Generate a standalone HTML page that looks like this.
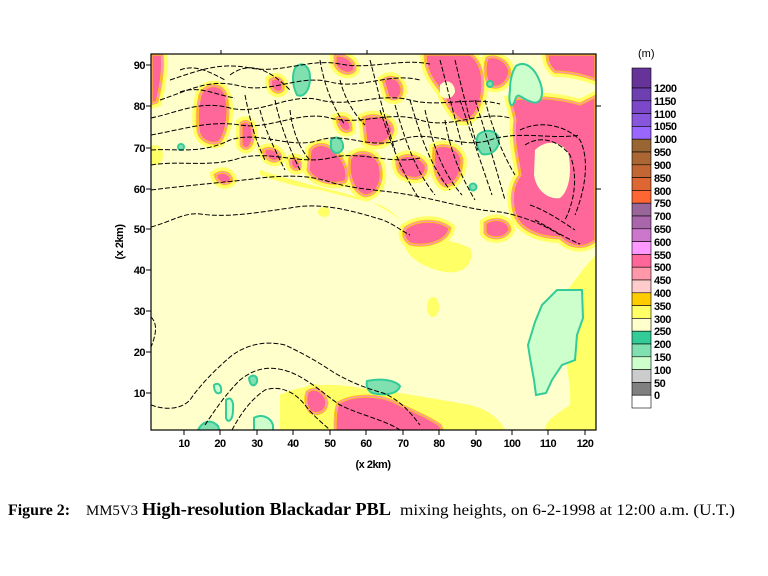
<!DOCTYPE html>
<html><head><meta charset="utf-8"><style>
body{margin:0;background:#fff;width:768px;height:576px;overflow:hidden;position:relative;font-family:"Liberation Sans",sans-serif}
</style></head><body>
<svg width="768" height="576" style="position:absolute;left:0;top:0" xmlns="http://www.w3.org/2000/svg">
<defs><clipPath id="c"><rect x="151" y="54" width="445" height="376"/></clipPath>
<g id="pk">
<path d="M151,54 H162 C164,70 160,90 157,102 L151,104Z"/>
<path d="M200,95 C205,83 222,82 226,95 C230,110 228,130 220,142 C210,146 198,140 198,128 C196,115 198,105 200,95Z"/>
<path d="M241,123 C248,118 254,125 253,138 C252,148 245,152 241,145Z"/>
<path d="M263,150 C270,146 280,150 281,158 C276,164 266,162 263,150Z"/>
<path d="M310,150 C318,140 330,145 336,152 C345,160 350,175 345,182 C330,186 312,180 308,170Z"/>
<path d="M350,158 C360,148 375,152 380,165 C384,180 378,195 365,196 C352,192 347,172 350,158Z"/>
<path d="M337,118 C345,115 352,120 351,130 C345,134 338,130 337,118Z"/>
<path d="M363,118 C375,112 392,118 393,130 C390,143 376,148 366,142Z"/>
<path d="M425,54 H470 C480,60 485,75 482,95 C478,115 470,123 460,120 C450,112 445,100 440,90 C432,80 425,70 425,54Z"/>
<path d="M383,80 C390,74 400,78 402,88 C403,98 395,102 388,97Z"/>
<path d="M397,160 C405,152 420,155 426,165 C428,175 420,180 410,178 C400,176 396,170 397,160Z"/>
<path d="M434,148 C445,142 460,148 462,160 C462,175 455,186 445,186 C436,182 432,165 434,148Z"/>
<path d="M487,58 C495,54 508,60 510,72 C508,84 498,90 490,86 C484,78 484,66 487,58Z"/>
<path d="M510,100 C530,95 560,98 580,104 L596,96 V240 C585,250 570,248 560,238 C540,238 520,230 515,215 C510,200 512,185 520,175 C518,160 512,140 515,120Z"/>
<path d="M405,228 C420,218 440,220 450,228 C448,242 425,248 410,244 C404,240 402,234 405,228Z"/>
<path d="M485,223 C495,216 510,220 510,230 C505,240 490,240 485,233Z"/>
<path d="M547,54 H596 V80 C585,76 570,72 555,72 C548,66 547,60 547,54Z"/>
<path d="M335,55 C345,54 355,60 355,70 C350,76 340,74 335,65Z"/>
<path d="M270,80 C278,75 285,80 283,90 C278,95 270,92 270,80Z"/>
<path d="M307,392 C315,385 325,392 327,402 C327,412 318,416 310,412 C305,405 305,398 307,392Z"/>
<path d="M338,403 C355,393 380,395 395,402 C410,410 425,415 440,425 L445,435 H335 C335,420 335,410 338,403Z"/>
<path d="M215,175 C222,170 230,172 232,180 C228,186 218,185 215,175Z"/>
<path d="M290,160 C296,156 302,160 300,168 C295,172 290,168 290,160Z"/>
</g>
</defs>
<g clip-path="url(#c)">
<rect x="151" y="54" width="445" height="376" fill="#ffffcc"/>
<g fill="#ffff66">
<path d="M403,240 C420,236 450,238 470,248 C475,262 465,275 445,272 C425,268 405,258 403,240Z"/>
<ellipse cx="433" cy="307" rx="6" ry="10"/>
<path d="M560,300 C575,280 590,260 596,255 V430 H545 C545,420 560,412 570,405 C572,380 560,340 560,300Z"/>
<path d="M280,395 C300,385 330,382 360,388 C400,392 440,400 470,405 C490,410 500,420 505,430 H280 Z"/>
<ellipse cx="324" cy="212" rx="6" ry="5"/>
<ellipse cx="155" cy="155" rx="8" ry="10"/>
<path d="M260,175 C280,182 300,188 320,190 C340,195 360,200 380,205 C392,210 400,220 408,228 C395,212 370,200 340,192 C310,185 285,178 260,170Z"/>
</g>
<use href="#pk" fill="#ffff66" stroke="#ffff66" stroke-width="10"/>
<use href="#pk" fill="#ff6699" stroke="#ffcc00" stroke-width="3"/>
<use href="#pk" fill="none" stroke="#ff99aa" stroke-width="1.5"/>
<path d="M535,150 C545,140 560,140 568,152 C572,170 570,190 560,198 C548,200 536,190 534,175Z" fill="#ffffcc"/>
<path d="M440,85 C446,78 455,82 455,92 C452,100 444,100 440,95Z" fill="#ffffcc"/>
<g stroke="#33cc99" stroke-width="2">
<path d="M295,68 C302,60 310,66 310,78 C310,90 304,98 297,95 C292,85 292,75 295,68Z" fill="#80e0b0"/>
<path d="M331,140 C337,134 344,140 343,148 C340,155 333,154 331,148Z" fill="#80e0b0"/>
<path d="M478,135 C486,128 498,130 499,140 C499,150 490,156 482,154 C476,148 476,140 478,135Z" fill="#80e0b0"/>
<path d="M516,66 C525,60 535,68 540,82 C545,96 540,105 532,102 C522,100 518,90 515,100 C512,110 508,105 510,90 C510,80 512,72 516,66Z" fill="#ccffcc"/>
<circle cx="181" cy="147" r="3" fill="#80e0b0"/>
<circle cx="473" cy="187" r="3.5" fill="#80e0b0"/>
<circle cx="490" cy="84" r="3" fill="#80e0b0"/>
<path d="M557,290 L582,290 L583,318 L577,335 L575,360 L562,365 L552,380 L546,393 L536,395 L534,380 L530,358 L528,345 L535,322 L542,305Z" fill="#ccffcc"/>
<path d="M367,381 C380,378 395,380 400,386 C398,394 385,396 372,393 C367,390 366,385 367,381Z" fill="#80e0b0"/>
<path d="M249,378 C252,374 258,375 257,382 C255,387 250,387 249,378Z" fill="#80e0b0"/>
<path d="M214,385 C218,382 222,385 221,392 C218,395 214,393 214,385Z" fill="#ccffcc"/>
<path d="M226,400 C230,396 234,400 233,410 C233,420 228,424 226,418Z" fill="#ccffcc"/>
<path d="M254,418 C260,414 270,416 273,425 L273,432 H254Z" fill="#ccffcc"/>
<path d="M198,430 C202,422 210,418 218,426 L220,432 H198Z" fill="#80e0b0"/>
</g>
<g fill="none" stroke="#000" stroke-width="1" stroke-dasharray="5,2">
<path d="M151,227 C170,222 185,212 200,214 C230,218 260,212 290,208 C320,202 350,210 383,220 C395,225 400,230 410,235"/>
<path d="M151,190 C190,185 230,182 260,178 C290,175 310,175 333,183 C360,190 383,190 410,195 C440,200 470,210 500,212 C520,215 545,225 560,235"/>
<path d="M151,150 C175,148 200,155 230,140 C260,130 290,150 320,140 C345,132 370,150 400,140 C430,128 460,150 490,140 C520,130 550,140 580,135"/>
<path d="M151,135 C180,130 210,120 240,125 C270,130 300,110 330,118 C360,126 390,110 420,120 C450,130 480,110 510,118"/>
<path d="M151,118 C180,112 200,100 230,108 C260,116 290,92 320,100 C350,108 380,92 410,100 C440,108 470,96 500,104"/>
<path d="M160,100 C190,90 210,78 240,86 C270,94 300,74 330,82 C360,90 390,72 420,80"/>
<path d="M170,80 C200,70 220,62 250,68 C280,74 310,58 340,64 C370,70 400,58 430,64"/>
<path d="M151,165 C180,160 210,168 240,158 C270,150 300,165 330,158 C360,150 390,165 420,158"/>
<path d="M180,92 C200,85 215,95 235,98 M180,70 C195,64 210,72 225,80 M230,75 C250,60 270,70 290,90"/>
<path d="M380,110 C390,140 400,170 420,200 M395,105 C405,140 415,170 435,195 M410,100 C420,135 430,165 450,190 M425,110 C432,140 440,170 462,195 M445,120 C450,150 460,175 475,200 M460,100 C470,130 480,160 492,195 M475,100 C485,130 495,165 505,200"/>
<path d="M370,60 C378,90 385,120 395,150 M440,60 C448,90 455,120 462,145 M455,60 C462,90 470,120 478,150 M485,100 C490,120 500,150 515,175"/>
<path d="M260,110 C265,130 275,150 285,170 M275,100 C280,125 290,150 300,170 M290,110 C292,130 300,150 310,160 M245,95 C250,120 255,140 265,160 M320,60 C325,90 335,110 345,125 M340,80 C345,100 355,115 365,125"/>
<path d="M520,130 C540,120 565,125 580,140 C590,160 585,190 575,215 M525,145 C540,135 558,140 570,155 C578,175 575,200 565,220 M530,205 C545,210 560,220 575,230 M535,220 C550,228 565,238 580,244"/>
<path d="M151,405 C165,410 180,410 190,400 C200,385 215,370 230,357 C245,345 265,340 285,345 C300,352 315,360 330,370 C345,380 365,388 383,393 C400,400 410,412 420,425"/>
<path d="M205,425 C215,410 225,395 240,380 C255,368 270,365 290,372 C310,380 325,395 340,405 C360,415 385,420 400,430"/>
<path d="M232,430 C240,415 250,400 265,390 C280,385 295,392 305,405 C315,418 325,425 330,430"/>
<path d="M151,317 C156,322 158,330 151,347"/>
</g>
</g>
<rect x="151" y="54" width="445" height="376" fill="none" stroke="#000" stroke-width="1.2"/>
<g stroke="#000" stroke-width="1">
<path d="M184,430v5M220,430v5M257,430v5M293,430v5M330,430v5M366,430v5M403,430v5M439,430v5M476,430v5M512,430v5M548,430v5M585,430v5"/>
<path d="M221,54v-4M367,54v-4M513,54v-4"/>
<path d="M146,65h5M146,106h5M146,148h5M146,189h5M146,229h5M146,270h5M146,311h5M146,352h5M146,393h5"/>
<path d="M596,106h5M596,189h5"/>
</g>
<g stroke="#000" stroke-width="0.6">
<rect x="632" y="68" width="19" height="20" fill="#663399"/>
<rect x="632" y="88" width="19" height="12.8" fill="#6e3fb0"/>
<rect x="632" y="100.8" width="19" height="12.8" fill="#7a48c8"/>
<rect x="632" y="113.6" width="19" height="12.8" fill="#8855dd"/>
<rect x="632" y="126.4" width="19" height="12.8" fill="#9966ff"/>
<rect x="632" y="139.2" width="19" height="12.8" fill="#996633"/>
<rect x="632" y="152" width="19" height="12.8" fill="#aa6633"/>
<rect x="632" y="164.8" width="19" height="12.8" fill="#c26633"/>
<rect x="632" y="177.6" width="19" height="12.8" fill="#dd6633"/>
<rect x="632" y="190.4" width="19" height="12.8" fill="#ff6633"/>
<rect x="632" y="203.2" width="19" height="12.8" fill="#996699"/>
<rect x="632" y="216" width="19" height="12.8" fill="#aa66aa"/>
<rect x="632" y="228.8" width="19" height="12.8" fill="#cc77cc"/>
<rect x="632" y="241.6" width="19" height="12.8" fill="#ff99ff"/>
<rect x="632" y="254.4" width="19" height="12.8" fill="#ff6699"/>
<rect x="632" y="267.2" width="19" height="12.8" fill="#ff99aa"/>
<rect x="632" y="280" width="19" height="12.8" fill="#ffcccc"/>
<rect x="632" y="292.8" width="19" height="12.8" fill="#ffcc00"/>
<rect x="632" y="305.6" width="19" height="12.8" fill="#ffff66"/>
<rect x="632" y="318.4" width="19" height="12.8" fill="#ffffcc"/>
<rect x="632" y="331.2" width="19" height="12.8" fill="#33cc99"/>
<rect x="632" y="344" width="19" height="12.8" fill="#80e0b0"/>
<rect x="632" y="356.8" width="19" height="12.8" fill="#ccffcc"/>
<rect x="632" y="369.6" width="19" height="12.8" fill="#cccccc"/>
<rect x="632" y="382.4" width="19" height="12.8" fill="#808080"/>
<rect x="632" y="395.2" width="19" height="12.8" fill="#ffffff"/>
</g>
<g font-family="Liberation Sans, sans-serif" font-size="11" font-weight="bold" letter-spacing="-0.5">
<text x="654" y="92">1200</text><text x="654" y="105">1150</text><text x="654" y="118">1100</text><text x="654" y="130">1050</text><text x="654" y="143">1000</text>
<text x="654" y="156">950</text><text x="654" y="169">900</text><text x="654" y="182">850</text><text x="654" y="195">800</text><text x="654" y="207">750</text>
<text x="654" y="220">700</text><text x="654" y="233">650</text><text x="654" y="246">600</text><text x="654" y="259">550</text><text x="654" y="271">500</text>
<text x="654" y="284">450</text><text x="654" y="297">400</text><text x="654" y="310">350</text><text x="654" y="323">300</text><text x="654" y="335">250</text>
<text x="654" y="348">200</text><text x="654" y="361">150</text><text x="654" y="374">100</text><text x="654" y="387">50</text><text x="654" y="399">0</text>
<text x="638" y="57" font-weight="normal" letter-spacing="0">(m)</text>
<g text-anchor="end">
<text x="145" y="69">90</text><text x="145" y="110">80</text><text x="145" y="152">70</text><text x="145" y="193">60</text><text x="145" y="233">50</text><text x="145" y="274">40</text><text x="145" y="315">30</text><text x="145" y="356">20</text><text x="145" y="397">10</text>
</g>
<g text-anchor="middle">
<text x="184" y="447">10</text><text x="220" y="447">20</text><text x="257" y="447">30</text><text x="293" y="447">40</text><text x="330" y="447">50</text><text x="366" y="447">60</text><text x="403" y="447">70</text><text x="439" y="447">80</text><text x="476" y="447">90</text><text x="512" y="447">100</text><text x="548" y="447">110</text><text x="585" y="447">120</text>
<text x="373" y="468">(x 2km)</text>
<text transform="translate(123,242) rotate(-90)">(x 2km)</text>
</g>
</g>
<g font-family="Liberation Serif, serif">
<text x="8" y="515" font-size="16" font-weight="bold" textLength="62" lengthAdjust="spacingAndGlyphs">Figure 2:</text>
<text x="86" y="515" font-size="15" textLength="52" lengthAdjust="spacingAndGlyphs">MM5V3</text>
<text x="142" y="515" font-size="18" font-weight="bold" textLength="249" lengthAdjust="spacingAndGlyphs">High-resolution Blackadar PBL</text>
<text x="400" y="515" font-size="16" textLength="335" lengthAdjust="spacingAndGlyphs">mixing heights, on 6-2-1998 at 12:00 a.m. (U.T.)</text>
</g>
</svg>
</body></html>
